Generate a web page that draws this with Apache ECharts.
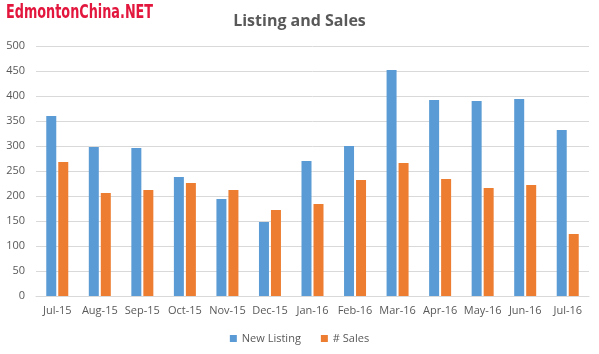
<!DOCTYPE html>
<html>
<head>
<meta charset="utf-8">
<script src="https://cdn.jsdelivr.net/npm/echarts@6/dist/echarts.min.js"></script>
<style>
  html, body { margin: 0; padding: 0; background: #fff; }
  #main { width: 599px; height: 354px; }
</style>
</head>
<body>
<div id="main"></div>
<script>
// 月份
var months = ['Jul-15', 'Aug-15', 'Sep-15', 'Oct-15', 'Nov-15', 'Dec-15', 'Jan-16',
              'Feb-16', 'Mar-16', 'Apr-16', 'May-16', 'Jun-16', 'Jul-16'];
// 新挂牌
var newListing = [360, 298, 296, 238, 194, 148, 270, 300, 452, 392, 390, 394, 332];
// 成交
var sales = [268, 206, 212, 226, 212, 172, 184, 232, 266, 234, 216, 222, 124];

var myChart = echarts.init(document.getElementById('main'));
myChart.setOption({
    animation: false,
    textStyle: {fontFamily: 'Open Sans, sans-serif'},
    title: {
        text: 'Listing and Sales',
        left: 'center',
        top: 8,
        textStyle: {fontSize: 16, fontWeight: 'bold', color: '#595959', fontFamily: 'Open Sans'}
    },
    // 水印
    graphic: [{
        type: 'text',
        x: 6,
        y: 4,
        scaleX: 0.75,
        style: {
            text: 'EdmontonChina.NET',
            font: 'bold 19px "DejaVu Sans Condensed", sans-serif',
            fill: '#e3173e'
        }
    }],
    legend: {
        bottom: 5,
        left: 'center',
        itemWidth: 7,
        itemHeight: 7,
        itemGap: 20,
        icon: 'rect',
        textStyle: {fontSize: 11, color: '#595959'},
        data: ['New Listing', '# Sales']
    },
    grid: {left: 36, right: 10, top: 46, bottom: 58},
    xAxis: {
        type: 'category',
        data: months,
        axisLine: {lineStyle: {color: '#d9d9d9'}},
        axisTick: {length: 4, lineStyle: {color: '#d9d9d9'}},
        axisLabel: {fontSize: 11, color: '#595959', margin: 9, interval: 0}
    },
    yAxis: {
        type: 'value',
        min: 0,
        max: 500,
        interval: 50,
        axisLine: {show: false},
        axisTick: {show: false},
        axisLabel: {fontSize: 11, color: '#595959', margin: 11},
        splitLine: {lineStyle: {color: '#d9d9d9'}}
    },
    series: [
        {
            name: 'New Listing',
            type: 'bar',
            data: newListing,
            barWidth: 10,
            barGap: '20%',
            itemStyle: {color: '#5b9bd5'}
        },
        {
            name: '# Sales',
            type: 'bar',
            data: sales,
            barWidth: 10,
            itemStyle: {color: '#ed7d31'}
        }
    ]
});
</script>
</body>
</html>
